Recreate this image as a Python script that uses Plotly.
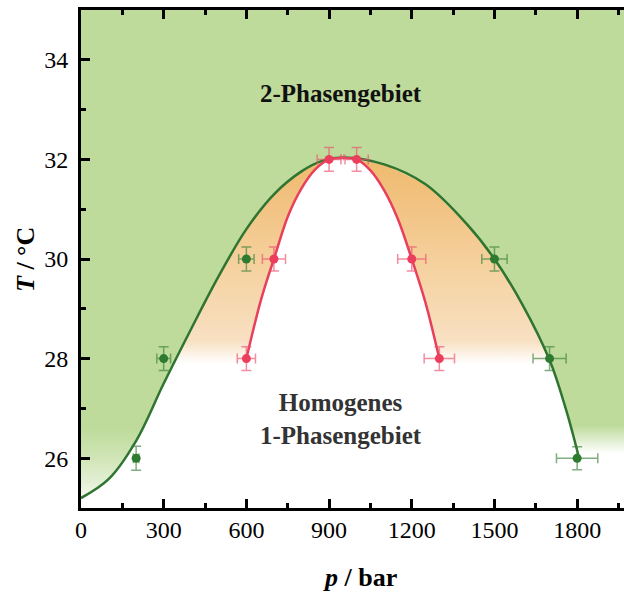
import plotly.graph_objects as go

# Measured cloud points (outer boundary) and the inner boundary
cloud_p = [200, 300, 600, 1500, 1700, 1800]
cloud_T = [26, 28, 30, 30, 28, 26]
cloud_dp = [10, 25, 28, 46, 60, 75]
cloud_dT = [0.24, 0.24, 0.24, 0.24, 0.24, 0.23]

inner_p = [600, 700, 900, 1000, 1200, 1300]
inner_T = [28, 30, 32, 32, 30, 28]
inner_dp = [33, 42, 43, 42, 51, 55]
inner_dT = [0.24, 0.24, 0.24, 0.24, 0.24, 0.24]

# Critical point
crit_p = [948]
crit_T = [32.04]
crit_dp = [5]

# Fitted boundary curves
green_p = [0, 100, 200, 300, 400, 500, 600, 700, 800, 880, 950,
           1100, 1250, 1400, 1500, 1600, 1700, 1760, 1804]
green_T = [25.2, 25.58, 26.35, 27.5, 28.6, 29.66, 30.6, 31.3, 31.76, 31.98, 32.04,
           31.9, 31.5, 30.7, 30.0, 29.1, 27.97, 26.97, 26.07]

red_p = [600, 625, 650, 675, 700, 750, 800, 850, 900, 948, 1000, 1050, 1100,
         1150, 1200, 1250, 1300]
red_T = [28.0, 28.58, 29.12, 29.58, 30.0, 30.85, 31.42, 31.8, 32.0, 32.03,
         32.0, 31.78, 31.38, 30.8, 30.0, 29.12, 28.0]

X_MAX = 1970
Y_MIN, Y_MAX = 25, 35

GREEN_FILL = "#bedb9b"
GREEN_LINE = "#2f7430"
GREEN_MARK = "#2d7a30"
GREEN_ERR = "rgba(60,130,60,0.65)"
RED_LINE = "#e8405c"
RED_MARK = "#ec3d5c"
RED_ERR = "rgba(236,80,110,0.65)"

fig = go.Figure()

# Two-phase region, left part (above the outer curve)
li = green_p.index(950)
lp = green_p[:li + 1]
lT = green_T[:li + 1]
fig.add_trace(go.Scatter(
    x=lp + [950, 0], y=lT + [Y_MAX, Y_MAX],
    mode="none", fill="toself", hoverinfo="skip", showlegend=False,
    fillgradient=dict(type="vertical", start=25.15, stop=26.9,
                      colorscale=[[0, "#f8fbf4"], [0.2, "#e4f0d6"], [0.49, "#d0e5b6"],
                                  [0.83, GREEN_FILL], [1, GREEN_FILL]]),
))

# Two-phase region, right part (overlaps the left part above the peak)
ri = green_p.index(800)
rp = green_p[ri:]
rT = green_T[ri:]
fig.add_trace(go.Scatter(
    x=rp + [rp[-1], X_MAX, X_MAX, 800], y=rT + [Y_MIN, Y_MIN, Y_MAX, Y_MAX],
    mode="none", fill="toself", hoverinfo="skip", showlegend=False,
    fillgradient=dict(type="vertical", start=26.1, stop=26.65,
                      colorscale=[[0, "#ffffff"], [1, GREEN_FILL]]),
))

# Region between the two boundaries
op = [p for p, t in zip(green_p, green_T) if t >= 27.5 and p > 0]
oT = [t for p, t in zip(green_p, green_T) if t >= 27.5 and p > 0]
fig.add_trace(go.Scatter(
    x=op + [1300] + red_p[::-1] + [600],
    y=oT + [27.5] + red_T[::-1] + [27.5],
    mode="none", fill="toself", hoverinfo="skip", showlegend=False,
    fillgradient=dict(type="vertical", start=27.9, stop=32.05,
                      colorscale=[[0, "#ffffff"], [0.11, "#f8e0c2"],
                                  [0.5, "#f5d09c"], [0.75, "#f2c384"],
                                  [1, "#efba6c"]]),
))

# Boundary curves
fig.add_trace(go.Scatter(
    x=green_p, y=green_T, mode="lines", showlegend=False, hoverinfo="skip",
    line=dict(color=GREEN_LINE, width=2.5, shape="spline", smoothing=1.0),
))
fig.add_trace(go.Scatter(
    x=red_p, y=red_T, mode="lines", showlegend=False, hoverinfo="skip",
    line=dict(color=RED_LINE, width=2.5, shape="spline", smoothing=1.0),
))

# Measured points with error bars
fig.add_trace(go.Scatter(
    x=cloud_p, y=cloud_T, mode="markers", showlegend=False,
    marker=dict(color=GREEN_MARK, size=9),
    error_x=dict(type="data", array=cloud_dp, color=GREEN_ERR, thickness=1.5, width=5),
    error_y=dict(type="data", array=cloud_dT, color=GREEN_ERR, thickness=1.5, width=5),
))
fig.add_trace(go.Scatter(
    x=inner_p, y=inner_T, mode="markers", showlegend=False,
    marker=dict(color=RED_MARK, size=9),
    error_x=dict(type="data", array=inner_dp, color=RED_ERR, thickness=1.5, width=5),
    error_y=dict(type="data", array=inner_dT, color=RED_ERR, thickness=1.5, width=5),
))
fig.add_trace(go.Scatter(
    x=crit_p, y=crit_T, mode="markers", showlegend=False,
    marker=dict(color=RED_MARK, size=1, opacity=0),
    error_x=dict(type="data", array=crit_dp, color=RED_ERR, thickness=1.2, width=3),
))

SERIF = "Liberation Serif, Times New Roman, serif"

fig.add_annotation(x=945, y=33.32, xref="x", yref="y", text="<b>2-Phasengebiet</b>",
                   showarrow=False, xanchor="center", yanchor="middle",
                   font=dict(family=SERIF, size=25, color="#111111"))
fig.add_annotation(x=945, y=26.79, xref="x", yref="y",
                   text="<b>Homogenes</b><br><b>1-Phasengebiet</b>",
                   showarrow=False, xanchor="center", yanchor="middle",
                   font=dict(family=SERIF, size=25, color="#333333"))

# Axis titles
fig.add_annotation(x=(25 - 81) / 543, y=(508 - 260) / 498, xref="paper", yref="paper",
                   text="<b><i>T</i> / °C</b>", textangle=-90, showarrow=False,
                   xanchor="center", yanchor="middle",
                   font=dict(family=SERIF, size=26, color="black"))
fig.add_annotation(x=(360 - 81) / 543, y=(508 - 577) / 498, xref="paper", yref="paper",
                   text="<b><i>p</i> / bar</b>", showarrow=False,
                   xanchor="center", yanchor="middle",
                   font=dict(family=SERIF, size=26, color="black"))

fig.update_layout(
    width=624, height=594,
    margin=dict(l=81, r=0, t=10, b=86),
    paper_bgcolor="white", plot_bgcolor="white",
    showlegend=False,
)
fig.update_xaxes(
    range=[0, X_MAX], tickvals=[0, 300, 600, 900, 1200, 1500, 1800],
    ticks="inside", ticklen=9, tickwidth=2.5, tickcolor="black",
    minor=dict(dtick=150, tick0=0, ticks="inside", ticklen=5, tickwidth=2.5, tickcolor="black"),
    showline=True, linewidth=3, linecolor="black", mirror="ticks",
    showgrid=False, zeroline=False,
    tickfont=dict(family=SERIF, size=24, color="black"),
    ticklabelstandoff=-2,
)
fig.update_yaxes(
    range=[Y_MIN, Y_MAX], tickvals=[26, 28, 30, 32, 34],
    ticks="inside", ticklen=9, tickwidth=2.5, tickcolor="black",
    minor=dict(dtick=1, tick0=25, ticks="inside", ticklen=5, tickwidth=2.5, tickcolor="black"),
    showline=True, linewidth=3, linecolor="black", mirror=False,
    showgrid=False, zeroline=False,
    tickfont=dict(family=SERIF, size=24, color="black"),
    ticklabelstandoff=5,
)

fig.write_html("out.html")
